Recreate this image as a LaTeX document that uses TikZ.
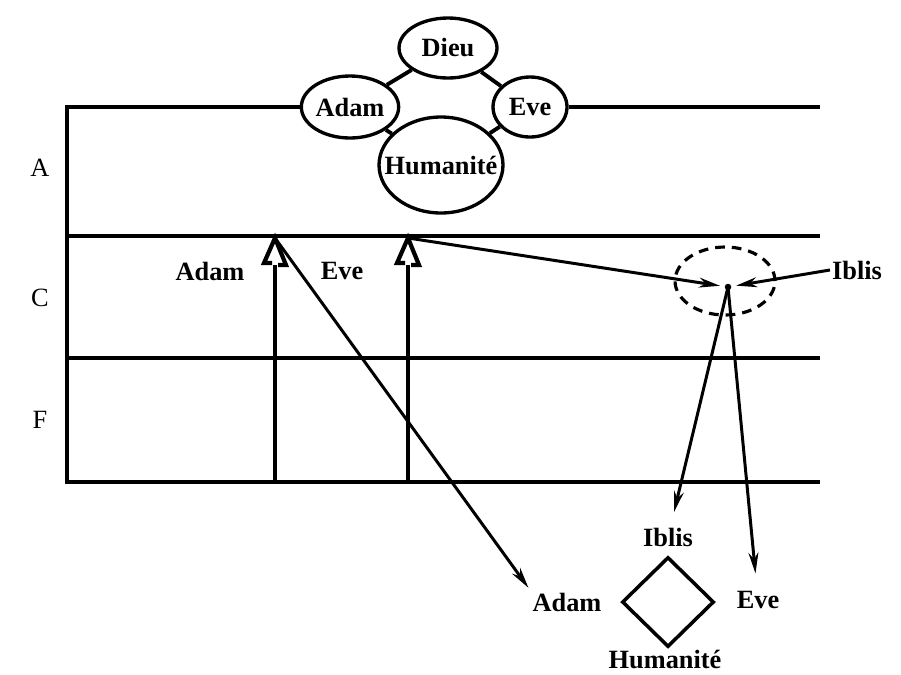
\documentclass[tikz,border=0pt]{standalone}
\usepackage{fontspec}
\setmainfont{Liberation Serif}
\usepackage{tikz}
\usetikzlibrary{shapes.geometric, arrows.meta}
\tikzset{
    rule/.style={ line width=2pt, black },
    bubble/.style={ draw, ellipse, line width=1.9pt, inner sep=0pt, font=\bfseries\fontsize{15}{18}\selectfont },
    tie/.style={ line width=2.2pt },
    rise/.style={ line width=2.6pt },
    risehead/.style={ line width=2.4pt, line join=miter },
    fall/.style={ line width=1.7pt, -{Stealth[open, length=4.2mm, width=2mm, line width=1.3pt]} },
    tag/.style={ font=\bfseries\fontsize{15}{18}\selectfont, inner sep=1pt },
    band/.style={ font=\fontsize{15}{18}\selectfont }
}

\begin{document}
\begin{tikzpicture}[x=0.02cm, y=-0.02cm]
        %\draw[step=50, very thin, gray, dashed] (0,0) grid (901,674);
        \useasboundingbox (0,0) rectangle (901,674);

        % the four bubbles on top
        \node[bubble, minimum width=1.96cm, minimum height=1.2cm]  (dieu) at (448,48)  {Dieu};
        \node[bubble, minimum width=1.88cm, minimum height=1.24cm] (adam) at (350,107) {Adam};
        \node[bubble, minimum width=1.48cm, minimum height=1.2cm]  (eve)  at (530,107) {Eve};
        \node[bubble, minimum width=2.48cm, minimum height=1.92cm] (hum)  at (441,165) {\makebox[0pt]{Humanit\'e}};
        \draw[tie] (dieu) -- (adam);
        \draw[tie] (dieu) -- (eve);
        \draw[tie] (adam) -- (hum);
        \draw[tie] (eve) -- (hum);

        % frame and levels
        \draw[rule] (adam.west) -- (67,107) -- (67,482) -- (820,482);
        \draw[rule] (eve.east) -- (820,107);
        \draw[rule] (67,236) -- (820,236);
        \draw[rule] (67,358) -- (820,358);

        \node[band] (lvA) at (40,168) {A};
        \node[band] (lvC) at (40,298) {C};
        \node[band] (lvF) at (40,420) {F};

        \coordinate (adamfoot) at (275,482);
        \coordinate (adamup)   at (275,238);
        \coordinate (evefoot)  at (408,482);
        \coordinate (eveup)    at (408,238);
        \draw[rise] (adamfoot) -- ++(0,-217);
        \draw[risehead] (adamup) ++(-3,25) -- ++(-8,0) -- (adamup) -- ++(11,27) -- ++(-8,0);
        \draw[rise] (evefoot) -- ++(0,-217);
        \draw[risehead] (eveup) ++(-3,25) -- ++(-8,0) -- (eveup) -- ++(11,27) -- ++(-8,0);
        \node[tag] (adamC) at (210,271) {Adam};
        \node[tag] (eveC)  at (342,271) {Eve};

        % Iblis and the knot
        \node[draw, ellipse, dashed, line width=1.8pt, dash pattern=on 5.5pt off 4pt,
              minimum width=2cm, minimum height=1.36cm] (aura) at (725,281) {};
        \node[circle, fill, inner sep=0pt, minimum size=0.13cm, outer sep=0.1cm] (knot) at (728,287) {};
        \node[tag] (iblisR) at (857,270) {Iblis};
        \draw[fall] (eveup) -- (knot);
        \draw[fall] (iblisR.west) -- (knot);

        % the fallen diamond
        \node[draw, diamond, line width=2pt, minimum width=1.84cm, minimum height=1.8cm, inner sep=0pt] (lozenge) at (668,602) {};
        \node[tag] (iblisB) at (668,537) {Iblis};
        \node[tag] (adamB)  at (567,602) {Adam};
        \node[tag] (eveB)   at (758,600) {Eve};
        \node[tag] (humB)   at (665,659) {Humanit\'e};
        \draw[fall, shorten >=2pt] (adamup) -- (adamB.north west);
        \draw[fall, shorten >=8pt] (knot.center) -- (iblisB);
        \draw[fall, shorten >=9pt] (knot.center) -- (eveB);

    \end{tikzpicture}
\end{document}
